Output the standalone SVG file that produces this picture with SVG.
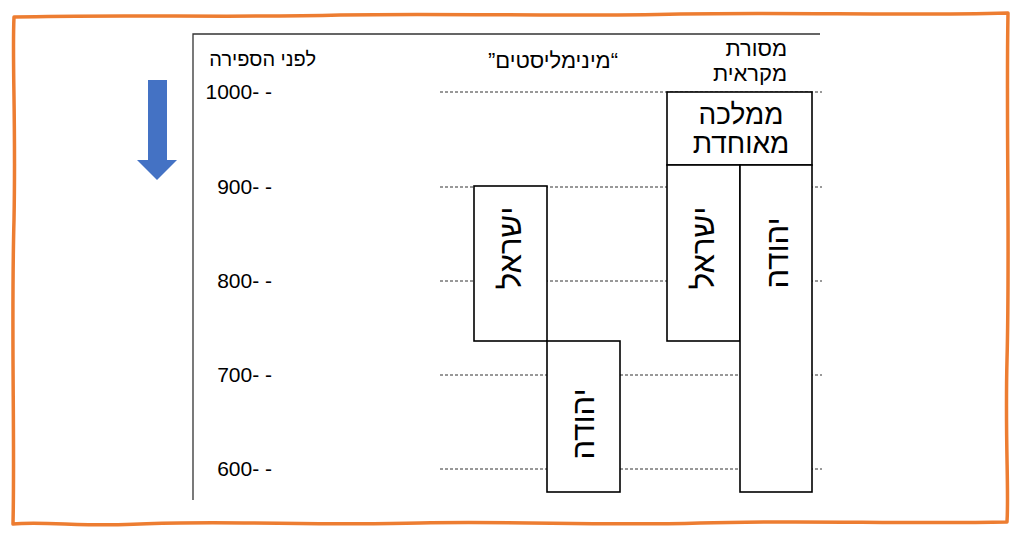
<svg xmlns="http://www.w3.org/2000/svg" width="1024" height="538" viewBox="0 0 1024 538">
<style>
text{font-family:"Liberation Sans",Arial,"Noto Sans",sans-serif;fill:#000}
.box{fill:#fff;stroke:#000;stroke-width:1.6}
.grid{stroke:#333;stroke-width:1;stroke-dasharray:3,2;fill:none}
.axis{stroke:#333;stroke-width:1.3;fill:none}
.tick{font-size:21px}
.vt{font-size:31px}
.big{font-size:28px}
.hdr{font-size:22px}
</style>
<rect width="1024" height="538" fill="#fff"/>
<path d="M14,17 C120,14 230,18 340,15 C460,13 560,17 680,14 C800,12 900,16 1008,13 C1006,120 1010,250 1007,360 C1005,440 1009,490 1007,522 C900,524 800,520 700,523 C600,526 520,521 420,523 C320,526 220,520 140,524 C90,527 40,521 13,524 C15,440 11,330 14,220 C16,120 12,60 14,17 Z" fill="none" stroke="#ED7D31" stroke-width="3.5" stroke-linejoin="round"/>
<g id="arrow">
<polygon points="148,80 167,80 167,160 177,160 157,180 137,160 148,160" fill="#4472C4"/>
</g>
<g id="axes">
<path class="axis" d="M193,500 V34 H820"/>
<text x="316" y="66" text-anchor="end" font-size="20">לפני הספירה</text>
<text class="tick" x="272" y="99" text-anchor="end">1000- -</text>
<text class="tick" x="272" y="194" text-anchor="end">900- -</text>
<text class="tick" x="272" y="288" text-anchor="end">800- -</text>
<text class="tick" x="272" y="382" text-anchor="end">700- -</text>
<text class="tick" x="272" y="476" text-anchor="end">600- -</text>
</g>
<g id="connectors">
<line class="grid" x1="440" y1="92" x2="822" y2="92"/>
<line class="grid" x1="440" y1="187" x2="822" y2="187"/>
<line class="grid" x1="440" y1="281" x2="822" y2="281"/>
<line class="grid" x1="440" y1="375" x2="822" y2="375"/>
<line class="grid" x1="440" y1="469" x2="822" y2="469"/>
</g>
<g id="header-minimalists">
<text x="553" y="68" text-anchor="middle" font-size="22">”מינימליסטים“</text>
</g>
<g id="header-biblical">
<text class="hdr" x="787" y="56" text-anchor="end">מסורת</text>
<text class="hdr" x="787" y="81" text-anchor="end">מקראית</text>
</g>
<g id="min-israel">
<rect class="box" x="474" y="186" width="73" height="155"/>
<text class="vt" transform="translate(521,248) rotate(-90)" text-anchor="middle">ישראל</text>
</g>
<g id="min-judah">
<rect class="box" x="547" y="341" width="73" height="151"/>
<text class="vt" transform="translate(594,424) rotate(-90)" text-anchor="middle">יהודה</text>
</g>
<g id="united-kingdom">
<rect class="box" x="667" y="92" width="145" height="73"/>
<text class="big" x="741" y="124" text-anchor="middle">ממלכה</text>
<text class="big" x="741" y="153" text-anchor="middle">מאוחדת</text>
</g>
<g id="bib-israel">
<rect class="box" x="667" y="165" width="73" height="176"/>
<text class="vt" transform="translate(714,248) rotate(-90)" text-anchor="middle">ישראל</text>
</g>
<g id="bib-judah">
<rect class="box" x="740" y="165" width="72" height="327"/>
<text class="vt" transform="translate(788,253) rotate(-90)" text-anchor="middle" font-size="33">יהודה</text>
</g>
</svg>
